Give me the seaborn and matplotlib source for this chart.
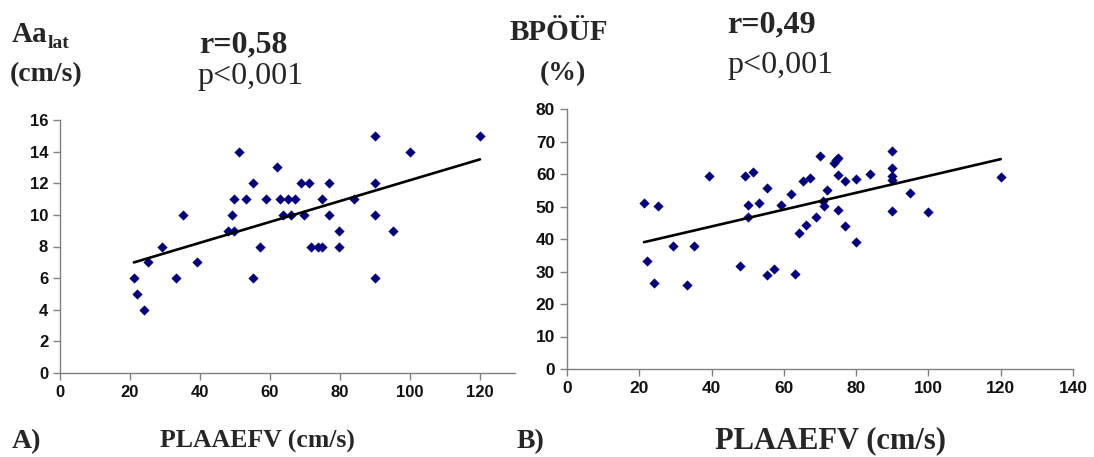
import matplotlib
matplotlib.use("Agg")
import matplotlib.pyplot as plt
import seaborn as sns
import pandas as pd

# Panel A: PLAAEFV (cm/s) vs Aa_lat (cm/s)
a_x = [21.1, 21.9, 24, 25.1, 29.1, 33, 35, 39, 47.9, 49.8, 49, 49.8, 51, 53, 55, 55, 57, 58.9,
       61.9, 62.9, 63.8, 65, 65.9, 67, 68.9, 69.8, 71, 71.7, 73.8, 74.9, 74.9, 76.9, 76.9,
       79.7, 79.7, 83.9, 90, 90, 90, 90, 95, 100, 120]
a_y = [6, 5, 4, 7, 8, 6, 10, 7, 9, 9, 10, 11, 14, 11, 12, 6, 8, 11,
       13, 11, 10, 11, 10, 11, 12, 10, 12, 8, 8, 8, 11, 12, 10,
       9, 8, 11, 15, 12, 10, 6, 9, 14, 15]

# Panel B: PLAAEFV (cm/s) vs BPÖÜF (%)
b_x = [21.3, 22, 24.1, 25.3, 29.3, 33.3, 35.2, 39.4, 48, 49.2, 51.4, 50.1, 50.1, 53.2, 55.2,
       55.2, 57.2, 59.3, 62.1, 63.2, 64.2, 65.4, 66.2, 67.1, 69, 70, 70.9, 71.2, 72, 73.8,
       74.4, 75.1, 75.1, 75.1, 77, 77, 79.9, 79.9, 83.9, 90, 90, 90, 90, 90, 94.9, 100, 120]
b_y = [51.2, 33.1, 26.6, 50.2, 38, 25.9, 37.8, 59.5, 31.7, 59.5, 60.6, 50.4, 46.7, 51.1, 55.6,
       28.9, 30.8, 50.4, 53.9, 29.2, 42, 57.7, 44.3, 58.9, 46.7, 65.6, 51.7, 50.2, 55.1, 63.5,
       64.3, 64.9, 59.7, 49, 58, 44.1, 58.4, 39, 59.9, 67.1, 62, 59.4, 58.2, 48.5, 54.3, 48.2, 59.1]

a_xticks = [0, 20, 40, 60, 80, 100, 120]
a_yticks = [0, 2, 4, 6, 8, 10, 12, 14, 16]
b_xticks = [0, 20, 40, 60, 80, 100, 120, 140]
b_yticks = [0, 10, 20, 30, 40, 50, 60, 70, 80]

sns.set_theme(style="white")
plt.rcParams["font.family"] = ["Liberation Sans", "DejaVu Sans"]

W, H = 1094, 457
fig = plt.figure(figsize=(W / 100, H / 100), dpi=100)
ax1 = fig.add_axes([60 / W, 1 - 373 / H, 455 / W, 253 / H])
ax2 = fig.add_axes([567 / W, 1 - 369 / H, 506 / W, 260 / H])

dfa = pd.DataFrame({"x": a_x, "y": a_y})
dfb = pd.DataFrame({"x": b_x, "y": b_y})

for ax, df, xt, yt, xlim, lsize in [
    (ax1, dfa, a_xticks, a_yticks, (0, 130), 12),
    (ax2, dfb, b_xticks, b_yticks, (0, 140), 12.5),
]:
    sns.regplot(data=df, x="x", y="y", ax=ax, ci=None, marker="D", color="#000080",
                scatter_kws=dict(s=27, linewidths=0, alpha=1),
                line_kws=dict(color="black", lw=1.9))
    ax.set_xlim(*xlim)
    ax.set_ylim(yt[0], yt[-1])
    ax.set_xticks(xt)
    ax.set_yticks(yt)
    ax.set_xlabel("")
    ax.set_ylabel("")
    for s in ["top", "right"]:
        ax.spines[s].set_visible(False)
    for s in ["left", "bottom"]:
        ax.spines[s].set_color("#808080")
        ax.spines[s].set_linewidth(1)
    ax.tick_params(bottom=True, left=True, direction="out", length=5, width=1,
                   color="#808080", labelsize=lsize, labelcolor="#111111")
    for lbl in ax.get_xticklabels() + ax.get_yticklabels():
        lbl.set_fontweight("bold")


def T(x, y, s, size, weight="bold", **kw):
    fig.text(x / W, 1 - y / H, s, fontsize=size, fontweight=weight,
             family=["Liberation Serif", "DejaVu Serif"], va="baseline", ha="left", **kw)


# Panel A header
T(12, 42, "Aa", 21)
T(48, 48, "lat", 14)
T(10, 81, "(cm/s)", 20)
T(199, 52, "r=0,58", 23)
T(197, 84, "p<0,001", 23, weight="normal")

# Panel B header
T(510, 40, "BPÖÜF", 21)
T(540, 80, "(%)", 20)
T(727, 32, "r=0,49", 23)
T(727, 73, "p<0,001", 23, weight="normal")

# Bottom labels
T(12, 448, "A)", 20)
T(160, 448, "PLAAEFV (cm/s)", 18.5)
T(517, 448, "B)", 20)
T(715, 448, "PLAAEFV (cm/s)", 22)

fig.savefig("out.png", dpi=100)
